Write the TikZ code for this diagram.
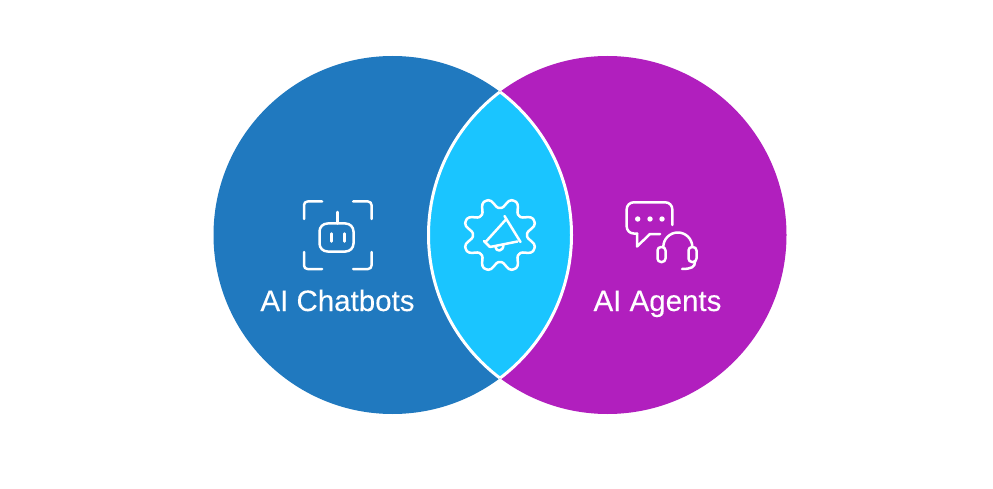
\documentclass[tikz,border=0pt]{standalone}
\usepackage{fontspec}
\setmainfont[FakeBold=0.12]{Liberation Sans}
\definecolor{chatblue}{HTML}{2079BF}
\definecolor{agentmag}{HTML}{B11FBE}
\definecolor{lenscyan}{HTML}{1AC5FF}
\tikzset{
  icon/.style={draw=white,line width=2.5pt,line cap=round,line join=round,fill=none},
  lbl/.style={text=white,font=\fontsize{29.5}{32}\selectfont,inner sep=0pt,anchor=base},
  sep/.style={draw=white,line width=3pt}
}
\begin{document}
\begin{tikzpicture}[x=1pt,y=-1pt]
\useasboundingbox (0,0) rectangle (993,489);
\fill[white] (0,0) rectangle (993,489);
\coordinate (cl) at (392.5,235);
\coordinate (cr) at (607.5,235);
\fill[chatblue] (cl) circle[radius=179];
\fill[agentmag] (cr) circle[radius=179];
\begin{scope}
  \clip (cl) circle[radius=179];
  \fill[lenscyan] (cr) circle[radius=179];
  \draw[sep] (cr) circle[radius=179];
\end{scope}
\begin{scope}
  \clip (cr) circle[radius=179];
  \draw[sep] (cl) circle[radius=179];
\end{scope}
% robot icon
\draw[icon] (304,219) -- (304,205) .. controls (304,203) and (305.5,201.5) .. (307.5,201.5) -- (322,201.5);
\draw[icon] (353,201.5) -- (368,201.5) .. controls (370,201.5) and (371.5,203) .. (371.5,205) -- (371.5,219);
\draw[icon] (304,252) -- (304,265.5) .. controls (304,267.5) and (305.5,269) .. (307.5,269) -- (322,269);
\draw[icon] (353,269) -- (368,269) .. controls (370,269) and (371.5,267.5) .. (371.5,265.5) -- (371.5,252);
\draw[icon,rounded corners=8pt] (319.5,223.5) rectangle (353.5,251.5);
\draw[icon] (337.7,212) -- (337.7,223.5);
\draw[icon] (331.7,233.5) -- (331.7,241.5);
\draw[icon] (344.3,233.5) -- (344.3,241.5);
% gear with megaphone
\draw[icon] plot[smooth cycle,samples=96,domain=0:356.25,variable=\t] ({500+(32+5.5*(cos(8*(\t-22.5))-0.1*cos(24*(\t-22.5))))*cos(\t)},{235+(32+5.5*(cos(8*(\t-22.5))-0.1*cos(24*(\t-22.5))))*sin(\t)});
\draw[icon] (504.5,216) -- (520.5,242);
\draw[icon] (505.5,220) -- (486,241.5);
\draw[icon] (517.5,241.5) -- (490,247);
\draw[icon] (484,241) -- (490,247);
\draw[icon] (495.5,247) .. controls (496,252) and (503,252) .. (503.5,245);
% chat and headset
\draw[icon,rounded corners=7pt] (672.3,225) -- (672.3,202.3) -- (626.7,202.3) -- (626.7,233.5) -- (637,233.5);
\draw[icon] (637,233.5) -- (637,246.5) -- (650,234) -- (660,234);
\fill[white] (637.7,219) circle[radius=2.7] (650,219) circle[radius=2.7] (662,219) circle[radius=2.7];
\draw[icon] (663.3,247) arc[start angle=180,end angle=360,radius=14.5];
\draw[icon,rounded corners=3.5pt] (657.5,247) rectangle (665.5,262);
\draw[icon,rounded corners=3.5pt] (688.5,247) rectangle (696.5,262);
\draw[icon] (695,262) .. controls (695,267) and (691,269) .. (682,269);
\node[lbl] (chat) at (337.5,311) {AI Chatbots};
\node[lbl] (agent) at (657.5,311) {AI Agents};
\end{tikzpicture}
\end{document}
